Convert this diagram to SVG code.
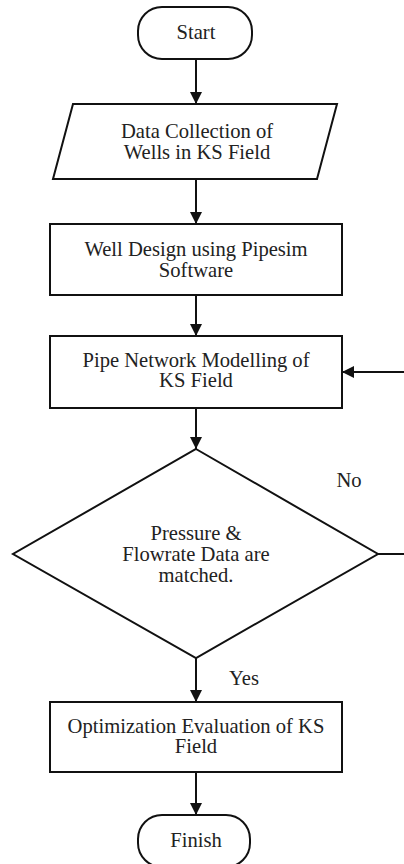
<svg xmlns="http://www.w3.org/2000/svg" width="404" height="864" viewBox="0 0 404 864">
<style>
.s{fill:#fff;stroke:#111;stroke-width:2}
.t{font-size:20.6px;fill:#222;text-anchor:middle}
.c{fill:none;stroke:#111;stroke-width:2}
</style>
<defs>
<marker id="a" markerUnits="userSpaceOnUse" markerWidth="12" markerHeight="12" viewBox="0 0 12 12" refX="12" refY="6" orient="auto">
<path d="M0,0 L12,6 L0,12 Z" fill="#111"/>
</marker>
</defs>
<rect width="404" height="864" fill="#fff"/>
<g id="connectors">
<line class="c" x1="196" y1="59" x2="196" y2="104" marker-end="url(#a)"/>
<line class="c" x1="196" y1="179" x2="196" y2="224" marker-end="url(#a)"/>
<line class="c" x1="196" y1="295" x2="196" y2="336" marker-end="url(#a)"/>
<line class="c" x1="196" y1="408" x2="196" y2="449" marker-end="url(#a)"/>
<line class="c" x1="196" y1="658" x2="196" y2="702" marker-end="url(#a)"/>
<line class="c" x1="196" y1="772" x2="196" y2="815" marker-end="url(#a)"/>
<path class="c" d="M378,554 H408 V372 H342" marker-end="url(#a)"/>
</g>
<g font-family="Liberation Serif, Times New Roman, Times, serif">
<g id="labels">
<text class="t" x="349" y="487">No</text>
<text class="t" x="244" y="685">Yes</text>
</g>
<g id="start">
<rect class="s" x="138" y="7" width="114" height="52" rx="24"/>
<text class="t" x="196" y="39">Start</text>
</g>
<g id="data">
<polygon class="s" points="73,104 337,104 317,179 53,179"/>
<text class="t" x="197" y="138">Data Collection of</text>
<text class="t" x="197" y="159">Wells in KS Field</text>
</g>
<g id="well">
<rect class="s" x="50" y="224" width="292" height="71"/>
<text class="t" x="196" y="256">Well Design using Pipesim</text>
<text class="t" x="196" y="277">Software</text>
</g>
<g id="pipe">
<rect class="s" x="50" y="336" width="292" height="72"/>
<text class="t" x="196" y="367">Pipe Network Modelling of</text>
<text class="t" x="196" y="387">KS Field</text>
</g>
<g id="decision">
<polygon class="s" points="196,449 378,554 196,658 13,554"/>
<text class="t" x="196" y="540">Pressure &amp;</text>
<text class="t" x="196" y="561">Flowrate Data are</text>
<text class="t" x="196" y="582">matched.</text>
</g>
<g id="optim">
<rect class="s" x="50" y="702" width="292" height="70"/>
<text class="t" x="196" y="733">Optimization Evaluation of KS</text>
<text class="t" x="196" y="753">Field</text>
</g>
<g id="finish">
<rect class="s" x="138" y="815" width="112" height="52" rx="24"/>
<text class="t" x="196" y="847">Finish</text>
</g>
</g>
</svg>
